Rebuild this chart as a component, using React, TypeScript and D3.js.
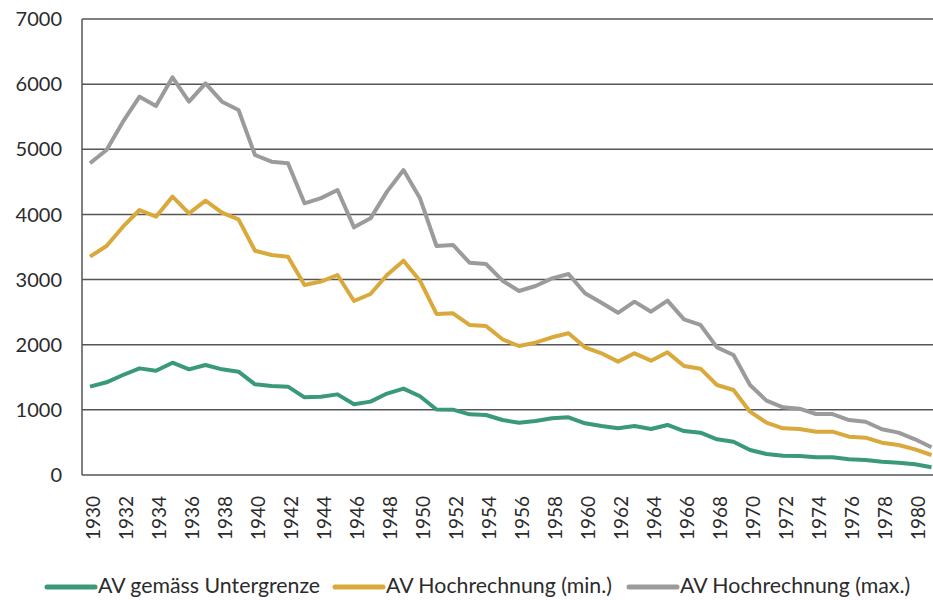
import React from "react";
import * as d3 from "d3";

const years = d3.range(1930, 1982);
const yTicks = [0, 1000, 2000, 3000, 4000, 5000, 6000, 7000];
const xTickYears = years.filter((y) => y % 2 === 0);

const seriesNames = [
  "AV gemäss Untergrenze",
  "AV Hochrechnung (min.)",
  "AV Hochrechnung (max.)",
];
const seriesColors = ["#3a9a78", "#d9a93c", "#9b9b9b"];

const untergrenze = [
  1356, 1423, 1535, 1637, 1601, 1724, 1622, 1689, 1622, 1586,
  1392, 1366, 1356, 1192, 1200, 1238, 1085, 1126, 1250, 1326,
  1208, 1005, 1003, 931, 921, 844, 803, 829, 870, 886,
  794, 752, 717, 752, 706, 768, 675, 650, 548, 511,
  384, 322, 296, 292, 272, 272, 241, 230, 204, 189,
  164, 118,
];
const hochMin = [
  3352, 3515, 3812, 4068, 3965, 4273, 4017, 4211, 4027, 3925,
  3443, 3377, 3352, 2917, 2970, 3070, 2671, 2779, 3070, 3290,
  2983, 2472, 2482, 2303, 2287, 2083, 1980, 2031, 2114, 2175,
  1960, 1868, 1740, 1868, 1755, 1883, 1673, 1632, 1382, 1305,
  972, 803, 717, 706, 665, 665, 588, 573, 496, 460,
  394, 307,
];
const hochMax = [
  4785, 4989, 5424, 5808, 5665, 6105, 5731, 6013, 5731, 5603,
  4912, 4810, 4785, 4171, 4250, 4375, 3802, 3940, 4350, 4682,
  4247, 3515, 3531, 3259, 3239, 2983, 2825, 2901, 3019, 3086,
  2789, 2645, 2490, 2661, 2507, 2676, 2390, 2303, 1960, 1842,
  1382, 1141, 1039, 1018, 936, 936, 844, 818, 702, 650,
  548, 425,
];
const seriesValues = [untergrenze, hochMin, hochMax];

const W = 933;
const H = 600;
const left = 82;
const top = 19;
const bottom = 475;
const font = "Lato, 'Open Sans', sans-serif";
const textColor = "#2b2b2b";
const gridColor = "#555555";

const legendX = [47, 335, 629];

export default function App() {
  const x = d3.scalePoint<number>().domain(years).range([90, 931.5]);
  const y = d3.scaleLinear().domain([0, 7000]).range([bottom, top]);

  const line = d3
    .line<number>()
    .x((_, i) => x(years[i]) as number)
    .y((v) => y(v));

  return (
    <svg
      width={W}
      height={H}
      style={{ position: "absolute", left: 0, top: 0, background: "#fff" }}
      fontFamily={font}
    >
      {yTicks.map((t) => (
        <g key={t}>
          <line
            x1={left}
            x2={W}
            y1={y(t)}
            y2={y(t)}
            stroke={gridColor}
            strokeWidth={1.5}
          />
          <text
            x={62}
            y={y(t)}
            dy="0.36em"
            textAnchor="end"
            fontSize={20}
            fill={textColor}
          >
            {t}
          </text>
        </g>
      ))}
      <line
        x1={left}
        x2={left}
        y1={top}
        y2={bottom}
        stroke={gridColor}
        strokeWidth={1.5}
      />

      {xTickYears.map((yr) => (
        <text
          key={yr}
          transform={`translate(${(x(yr) as number) + 3},496) rotate(-90)`}
          dy="0.36em"
          textAnchor="end"
          fontSize={19}
          fill={textColor}
        >
          {yr}
        </text>
      ))}

      {seriesValues.map((vals, i) => (
        <path
          key={seriesNames[i]}
          d={line(vals) ?? ""}
          fill="none"
          stroke={seriesColors[i]}
          strokeWidth={4}
          strokeLinejoin="round"
        />
      ))}

      {seriesNames.map((name, i) => (
        <g key={name} transform={`translate(${legendX[i]},587)`}>
          <line
            x1={0}
            x2={48}
            y1={0}
            y2={0}
            stroke={seriesColors[i]}
            strokeWidth={5}
            strokeLinecap="round"
          />
          <text x={51} y={0} dy="0.3em" fontSize={21.3} fill={textColor}>
            {name}
          </text>
        </g>
      ))}
    </svg>
  );
}
